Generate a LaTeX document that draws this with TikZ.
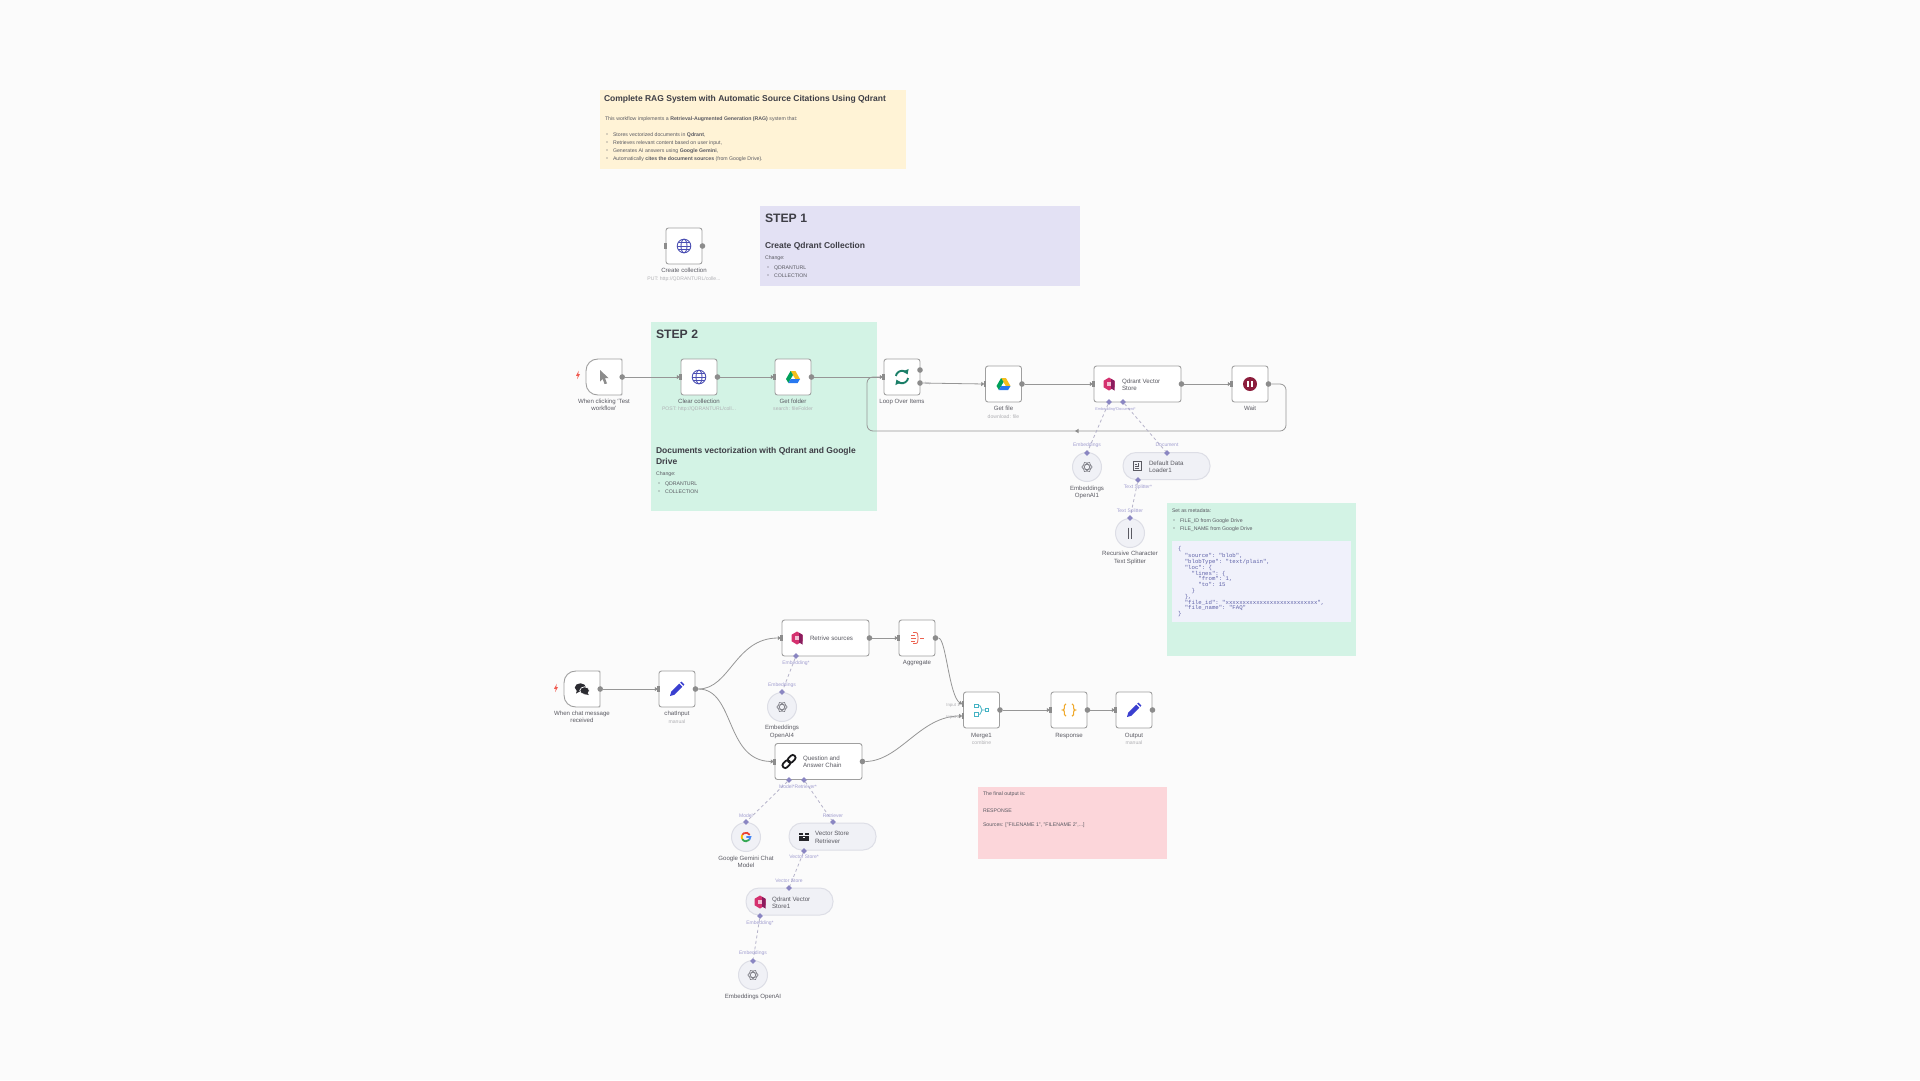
\documentclass[tikz,border=0pt]{standalone}
\usepackage{fontspec}
\setmainfont{Liberation Sans}
\setmonofont{Liberation Mono}
\usetikzlibrary{shapes.geometric,arrows.meta}
\definecolor{bgc}{HTML}{FBFBFB}
\definecolor{noteY}{HTML}{FFF3D6}
\definecolor{noteP}{HTML}{E3E1F4}
\definecolor{noteG}{HTML}{D3F3E5}
\definecolor{noteR}{HTML}{FCD6DA}
\definecolor{codeb}{HTML}{F0F1FB}
\definecolor{codet}{HTML}{5F62A8}
\definecolor{bord}{HTML}{A0A0A0}
\definecolor{port}{HTML}{8C8C8C}
\definecolor{edgecol}{HTML}{969696}
\definecolor{dia}{HTML}{8A86C2}
\definecolor{dashc}{HTML}{B6B4CA}
\definecolor{plab}{HTML}{A19ED0}
\definecolor{tdark}{HTML}{3E3E46}
\definecolor{tmid}{HTML}{5A5A62}
\definecolor{tsub}{HTML}{B0B0B4}
\definecolor{subbg}{HTML}{F0F1F6}
\definecolor{subbd}{HTML}{DDDEE6}
\definecolor{globe}{HTML}{4B4FB3}
\definecolor{pen}{HTML}{3A3FD0}
\definecolor{teal}{HTML}{1B7F68}
\definecolor{qd}{HTML}{D5316F}
\definecolor{qdd}{HTML}{8A1D5E}
\definecolor{waitc}{HTML}{8C1D3C}
\definecolor{redi}{HTML}{EC6250}
\definecolor{mergec}{HTML}{45B3C4}
\definecolor{orangei}{HTML}{F0A92B}
\definecolor{oai}{HTML}{7C7C84}
\newcounter{tn}
\newcommand\tx[4][]{\stepcounter{tn}\node[txt,#1] (t\arabic{tn}) at (#2,#3) {#4};}
\newcommand\bul[3]{\stepcounter{tn}\node[bdot] (t\arabic{tn}) at (#1,#2) {};\tx[west,body]{#1+6}{#2}{#3}}
\newcommand\nd[3]{\node[nbox] (#1) at (#2,#3) {};\node[outp] (#1-out) at (#1.east) {};\node[inp] (#1-in) at (#1.west) {};}
\newcommand\ndw[3]{\node[nbox,minimum width=87] (#1) at (#2,#3) {};\node[outp] (#1-out) at (#1.east) {};\node[inp] (#1-in) at (#1.west) {};}
\newcommand\lab[3]{\tx[lbl]{#1}{#2}{#3}}
\newcommand\sub[3]{\tx[sublbl]{#1}{#2}{#3}}
\newcommand\pl[3]{\tx[plbl]{#1}{#2}{#3}}
\newcommand\dm[3]{\node[dmd] (#1) at (#2,#3) {};}
% icons
\newcommand\icglobe[2]{\begin{scope}[shift={(#1,#2)},globe,line width=.9]\draw (0,0) circle[radius=6.8];\draw (0,0) ellipse[x radius=3,y radius=6.8];\draw (-6.8,0)--(6.8,0);\draw (-6,-3.2)--(6,-3.2);\draw (-6,3.2)--(6,3.2);\end{scope}}
\newcommand\icdrive[2]{\begin{scope}[shift={(#1,#2)}]\fill[color={rgb,255:red,244;green,190;blue,30}] (-2.4,-6)--(2.4,-6)--(7,2)--(2.3,2)--cycle;\fill[color={rgb,255:red,0;green,160;blue,90}] (-2.4,-6)--(0,-2)--(-4.6,6)--(-7,2)--cycle;\fill[color={rgb,255:red,40;green,120;blue,240}] (-2.3,2)--(7,2)--(4.6,6)--(-4.6,6)--cycle;\end{scope}}
\newcommand\iccursor[2]{\begin{scope}[shift={(#1,#2)}]\fill[port] (-4,-7)--(4.5,1)--(1,1)--(3,6.5)--(0.5,7)--(-1.3,2)--(-4,4.5)--cycle;\end{scope}}
\newcommand\icloop[2]{\begin{scope}[shift={(#1,#2)},teal,line width=1.9]\draw[-{Triangle[length=4.5,width=6]}] (-170:6.2) arc[start angle=-170,end angle=-25,radius=6.2];\draw[-{Triangle[length=4.5,width=6]}] (10:6.2) arc[start angle=10,end angle=155,radius=6.2];\end{scope}}
\newcommand\icq[2]{\begin{scope}[shift={(#1,#2)}]\fill[qd] (0,-6.5)--(5.5,-3.2)--(5.5,3.2)--(0,6.5)--(-5.5,3.2)--(-5.5,-3.2)--cycle;\fill[qdd] (2.2,-5.1)--(5.5,-3.2)--(5.5,6.5)--(2.2,4.6)--cycle;\fill[color=white!70!qd] (-2.2,-2.2) rectangle (1.6,2);\end{scope}}
\newcommand\icwait[2]{\begin{scope}[shift={(#1,#2)}]\fill[waitc] (0,0) circle[radius=7];\fill[white] (-2.6,-3.2) rectangle (-.6,3.2);\fill[white] (.6,-3.2) rectangle (2.6,3.2);\end{scope}}
\newcommand\icoai[2]{\begin{scope}[shift={(#1,#2)},oai,line width=.6]\draw (0,0) ellipse[x radius=5.2,y radius=2.6];\draw[rotate=60] (0,0) ellipse[x radius=5.2,y radius=2.6];\draw[rotate=-60] (0,0) ellipse[x radius=5.2,y radius=2.6];\end{scope}}
\newcommand\icdoc[2]{\begin{scope}[shift={(#1,#2)},tmid,line width=.6]\draw (-4,-4.5) rectangle (4,4.5);\draw (-2.2,-1.5)--(0,-1.5);\draw (-2.2,.5)--(2.2,.5);\draw (-2.2,2.5)--(2.2,2.5);\draw (1,-3)--(1,-.5)--(2.4,-.5);\end{scope}}
\newcommand\icbars[2]{\begin{scope}[shift={(#1,#2)},tmid,line width=1]\draw (-1.4,-5.5)--(-1.4,5.5);\draw (1.4,-5.5)--(1.4,5.5);\end{scope}}
\newcommand\icchat[2]{\begin{scope}[shift={(#1,#2)},tdark!70!black]\fill (-1.6,-1.5) ellipse[x radius=5.6,y radius=4.2];\fill (-5,1)--(-6,4.5)--(-2,2.4)--cycle;\draw[fill=tdark!70!black,draw=white,line width=.7] (2.6,1.6) ellipse[x radius=4.8,y radius=3.8];\fill (5,3)--(6.8,6)--(2,5)--cycle;\end{scope}}
\newcommand\icpen[2]{\begin{scope}[shift={(#1,#2)}]\fill[pen] (-7,7)--(-5.8,2.6)--(2.2,-5.4)--(5.4,-2.2)--(-2.6,5.8)--cycle;\fill[pen] (3.2,-6.4)--(4.6,-7.4)--(7.4,-4.6)--(6.4,-3.2)--cycle;\end{scope}}
\newcommand\icagg[2]{\begin{scope}[shift={(#1,#2)},redi,line width=.8]\draw (-6,-3)--(-2.5,-3);\draw (-6,0)--(-1.5,0);\draw (-6,3)--(-2.5,3);\draw (-4,-5.5)--(-1,-5.5) .. controls (1,-5.5) and (1,-2) .. (1,0) .. controls (1,2) and (1,5.5) .. (-1,5.5)--(-4,5.5);\draw (3,0)--(7,0);\end{scope}}
\newcommand\icmerge[2]{\begin{scope}[shift={(#1,#2)},mergec,line width=.8]\draw (-7,-6) rectangle (-3.5,-2.6);\draw (-7,2.6) rectangle (-3.5,6);\draw (3.5,-1.7) rectangle (7,1.7);\draw (-3.5,-4.3)--(-1.5,-4.3)--(.5,0)--(3.5,0);\draw (-3.5,4.3)--(-1.5,4.3)--(.5,0);\end{scope}}
\newcommand\icbrace[2]{\begin{scope}[shift={(#1,#2)},orangei,line width=1.1]\draw (-3,-6.2) .. controls (-5,-6.2) and (-4.6,-3.5) .. (-4.6,-2) .. controls (-4.6,-.6) and (-5.4,0) .. (-6.4,0) .. controls (-5.4,0) and (-4.6,.6) .. (-4.6,2) .. controls (-4.6,3.5) and (-5,6.2) .. (-3,6.2);\draw (3,-6.2) .. controls (5,-6.2) and (4.6,-3.5) .. (4.6,-2) .. controls (4.6,-.6) and (5.4,0) .. (6.4,0) .. controls (5.4,0) and (4.6,.6) .. (4.6,2) .. controls (4.6,3.5) and (5,6.2) .. (3,6.2);\end{scope}}
\newcommand\iclink[2]{\begin{scope}[shift={(#1,#2)},rotate=45,line width=1.8,tdark!40!black]\draw[rounded corners=2.4] (-8,-2.7) rectangle (.6,2.7);\draw[rounded corners=2.4] (-.6,-2.7) rectangle (8,2.7);\end{scope}}
\newcommand\icbox[2]{\begin{scope}[shift={(#1,#2)},tdark!60!black]\fill (-4.8,-.8) rectangle (4.8,4.4);\fill (-5.2,-4.2) rectangle (-.6,-1.6);\fill (.6,-4.2) rectangle (5.2,-1.6);\fill[white] (-1.4,.2) rectangle (1.4,1.2);\end{scope}}
\newcommand\icg[2]{\begin{scope}[shift={(#1,#2)},line width=1.8]\draw[color={rgb,255:red,234;green,67;blue,53}] (-30:4.3) arc[start angle=-30,end angle=-150,radius=4.3];\draw[color={rgb,255:red,251;green,188;blue,5}] (-150:4.3) arc[start angle=-150,end angle=-210,radius=4.3];\draw[color={rgb,255:red,52;green,168;blue,83}] (-210:4.3) arc[start angle=-210,end angle=-320,radius=4.3];\draw[color={rgb,255:red,66;green,133;blue,244}] (-320:4.3) arc[start angle=-320,end angle=-360,radius=4.3]--(.3,0);\end{scope}}
\newcommand\icbolt[2]{\begin{scope}[shift={(#1,#2)}]\fill[color={rgb,255:red,240;green,90;blue,80}] (.8,-4.2)--(-2,.8)--(-.2,.8)--(-.9,4.2)--(2,-1)--(.2,-1)--cycle;\end{scope}}
\newcommand\trig[2]{\begin{scope}[shift={(#1,#2)}]\draw[draw=bord,fill=white,line width=.9] (16,-18)--(-6,-18) .. controls (-13,-18) and (-18,-13) .. (-18,-6)--(-18,6) .. controls (-18,13) and (-13,18) .. (-6,18)--(16,18) .. controls (18,18) .. (18,16)--(18,-16) .. controls (18,-18) .. (16,-18)--cycle;\end{scope}}
\tikzset{
 x=1pt,y=-1pt,
 txt/.style={inner sep=0,outer sep=0,anchor=mid,text=tmid,font=\fontsize{5.4}{6.5}\selectfont},
 west/.style={anchor=mid west},
 lbl/.style={text=tmid,font=\fontsize{6.1}{7}\selectfont},
 sublbl/.style={text=tsub,font=\fontsize{5.1}{6}\selectfont},
 plbl/.style={text=plab,font=\fontsize{5}{6}\selectfont},
 body/.style={text=tmid,font=\fontsize{5.2}{6}\selectfont},
 h1/.style={west,text=tdark,font=\fontsize{12.2}{14}\bfseries\selectfont},
 h2/.style={west,text=tdark,font=\fontsize{8.5}{10}\bfseries\selectfont},
 inname/.style={west,text=tmid,font=\fontsize{6.2}{7}\selectfont},
 code/.style={west,text=codet,font=\fontsize{5.67}{6.5}\ttfamily\selectfont},
 bdot/.style={circle,fill=tmid,inner sep=0,minimum size=1.3},
 nbox/.style={draw=bord,fill=white,rounded corners=2.5,line width=.9,minimum width=36,minimum height=36,inner sep=0},
 plainbox/.style={minimum width=36,minimum height=36,inner sep=0},
 outp/.style={circle,fill=port,inner sep=0,minimum size=5.6},
 inp/.style={rectangle,fill=port,inner sep=0,minimum width=2.2,minimum height=6},
 edgec/.style={draw=edgecol,line width=.8},
 edgea/.style={edgec,-{Triangle[length=3,width=4,color=port]},shorten >=-.5},
 dmd/.style={diamond,fill=dia,inner sep=0,minimum size=6},
 dsh/.style={draw=dashc,line width=.8,dash pattern=on 3 off 2.6},
 subc/.style={circle,fill=subbg,draw=subbd,line width=1,minimum size=29,inner sep=0},
 pill/.style={rectangle,fill=subbg,draw=subbd,line width=1,rounded corners=13,minimum width=87,minimum height=27,inner sep=0},
}
\begin{document}
\begin{tikzpicture}
\useasboundingbox (0,0) rectangle (1920,1080);
\fill[bgc] (0,0) rectangle (1920,1080);
% notes
\fill[noteY] (600,90) rectangle (906,169);
\fill[noteP] (760,206) rectangle (1080,286);
\fill[noteG] (651,322) rectangle (877,511);
\fill[noteG] (1167,503) rectangle (1356,656);
\fill[codeb] (1172,541) rectangle (1351,622);
\fill[noteR] (978,787) rectangle (1167,859);
% yellow note
\tx[h2]{604}{99}{Complete RAG System with Automatic Source Citations Using Qdrant}
\tx[west,body]{605}{118}{This workflow implements a \textbf{Retrieval-Augmented Generation (RAG)} system that:}
\bul{607}{134}{Stores vectorized documents in \textbf{Qdrant},}
\bul{607}{142}{Retrieves relevant content based on user input,}
\bul{607}{150}{Generates AI answers using \textbf{Google Gemini},}
\bul{607}{158}{Automatically \textbf{cites the document sources} (from Google Drive).}
% step 1
\tx[h1]{765}{220}{STEP 1}
\tx[h2]{765}{246}{Create Qdrant Collection}
\tx[west,body]{765}{257}{Change:}
\bul{768}{267}{QDRANTURL}
\bul{768}{275}{COLLECTION}
% step 2
\tx[h1]{656}{336}{STEP 2}
\tx[h2]{656}{451}{Documents vectorization with Qdrant and Google}
\tx[h2]{656}{462}{Drive}
\tx[west,body]{656}{473}{Change:}
\bul{659}{483}{QDRANTURL}
\bul{659}{491}{COLLECTION}
% metadata note
\tx[west,body]{1172}{510}{Set as metadata:}
\bul{1174}{520}{FILE\_ID from Google Drive}
\bul{1174}{528}{FILE\_NAME from Google Drive}
\tx[code]{1178}{548.3}{\{}
\tx[code]{1178}{554.8}{\ \ "source": "blob",}
\tx[code]{1178}{561.3}{\ \ "blobType": "text/plain",}
\tx[code]{1178}{567.3}{\ \ "loc": \{}
\tx[code]{1178}{572.5}{\ \ \ \ "lines": \{}
\tx[code]{1178}{578}{\ \ \ \ \ \ "from": 1,}
\tx[code]{1178}{584}{\ \ \ \ \ \ "to": 15}
\tx[code]{1178}{590}{\ \ \ \ \}}
\tx[code]{1178}{596}{\ \ \},}
\tx[code]{1178}{602.3}{\ \ "file\_id": "xxxxxxxxxxxxxxxxxxxxxxxxxxx",}
\tx[code]{1178}{607.3}{\ \ "file\_name": "FAQ"}
\tx[code]{1178}{613.3}{\}}
% red note
\tx[west,body]{983}{793}{The final output is:}
\tx[west,body]{983}{810}{RESPONSE}
\tx[west,body]{983}{824}{Sources: ["FILENAME 1", "FILENAME 2",...]}
% nodes top
\nd{create}{684}{246}
\trig{604}{377}
\node[plainbox] (click) at (604,377) {};\node[outp] (click-out) at (click.east) {};
\nd{clear}{699}{377}
\nd{getfolder}{793}{377}
\node[nbox] (loop) at (902,377) {};\node[inp] (loop-in) at (loop.west) {};
\node[outp] (loop-done) at (920,370) {};
\node[outp] (loop-loop) at (920,383) {};
\nd{getfile}{1003.5}{384}
\ndw{qstore}{1137.5}{384}
\nd{wait}{1250}{384}
\node[subc] (embed1) at (1087,467) {};
\node[pill] (loader) at (1166.5,466) {};
\node[subc] (split) at (1130,533) {};
% nodes bottom
\trig{582}{689}
\node[plainbox] (chat) at (582,689) {};\node[outp] (chat-out) at (chat.east) {};
\nd{chatinput}{677}{689}
\ndw{retrive}{825.5}{638}
\nd{aggr}{917}{638}
\node[subc] (embed4) at (782,707) {};
\ndw{qa}{818.5}{761.5}
\node[nbox] (merge) at (981.5,710) {};
\node[outp] (merge-out) at (merge.east) {};
\node[inp] (merge-a) at (963,704) {};
\node[inp] (merge-b) at (963,716) {};
\nd{resp}{1069}{710}
\nd{outn}{1134}{710}
\node[subc] (gem) at (746,837) {};
\node[pill] (vsr) at (832.5,836.5) {};
\node[pill] (qs1) at (789.5,901.5) {};
\node[subc] (embed0) at (753,975) {};
% diamonds
\dm{d1}{1109}{402}\dm{d2}{1123}{402}\dm{d3}{1087}{453}\dm{d4}{1167}{453}\dm{d5}{1138}{480}\dm{d6}{1130}{518}
\dm{d7}{796}{656}\dm{d8}{782}{692}\dm{d9}{789}{780}\dm{d10}{804}{780}\dm{d11}{746}{822}\dm{d12}{833}{822}
\dm{d13}{804}{851}\dm{d14}{789}{888}\dm{d15}{760}{916}\dm{d16}{753}{961}
% connectors
\draw[edgea] (click-out) -- (clear-in);
\draw[edgea] (clear-out) -- (getfolder-in);
\draw[edgea] (getfolder-out) -- (loop-in);
\draw[edgea] (loop-loop) -- (getfile-in);
\draw[edgea] (getfile-out) -- (qstore-in);
\draw[edgea] (qstore-out) -- (wait-in);
\coordinate (lbR) at (1286,431);
\coordinate (lbL) at (867,431);
\coordinate (lbM) at (1078,431);
\draw[edgec,rounded corners=6] (wait-out) -| (lbR) -- (lbL) |- (loop-in);
\fill[port] (lbM) ++(-3,0) -- ++(3.5,-2.2) -- ++(0,4.4) -- cycle;
\draw[edgea] (chat-out) -- (chatinput-in);
\draw[edgea] (chatinput-out.east) .. controls (730,689) and (735,638) .. (retrive-in.west);
\draw[edgea] (chatinput-out.east) .. controls (735,689) and (725,761) .. (qa-in.west);
\draw[edgea] (retrive-out) -- (aggr-in);
\draw[edgea] (aggr-out.east) .. controls (946,638) and (949,696) .. (merge-a.west);
\draw[edgea] (qa-out.east) .. controls (900,761) and (920,716) .. (merge-b.west);
\draw[edgea] (merge-out) -- (resp-in);
\draw[edgea] (resp-out) -- (outn-in);
\draw[dsh] (d1) -- (d3);
\draw[dsh] (d2) -- (d4);
\draw[dsh] (d5) -- (d6);
\draw[dsh] (d7) -- (d8);
\draw[dsh] (d9) -- (d11);
\draw[dsh] (d10) -- (d12);
\draw[dsh] (d13) -- (d14);
\draw[dsh] (d15) -- (d16);
% icons
\icglobe{684}{246}\iccursor{604}{377}\icbolt{578}{375}\icglobe{699}{377}\icdrive{793}{377}\icloop{902}{377}\icdrive{1003.5}{384}
\icq{1109}{384}\icwait{1250}{384}\icoai{1087}{467}\icdoc{1137}{466}\icbars{1130}{533}
\icbolt{556}{688}\icchat{582}{689}\icpen{677}{689}\icq{797}{638}\icagg{917}{638}\icoai{782}{707}\iclink{789}{761.5}
\icmerge{981.5}{710}\icbrace{1069}{710}\icpen{1134}{710}\icg{746}{837}\icbox{804}{837}\icq{760}{902}\icoai{753}{975}
% labels top
\lab{684}{270}{Create collection}\sub{684}{278}{PUT: http://QDRANTURL/colle...}
\lab{604}{401}{When clicking ‘Test}\lab{604}{408}{workflow’}
\lab{699}{401}{Clear collection}\sub{699}{408}{POST: http://QDRANTURL/coll...}
\lab{793}{401}{Get folder}\sub{793}{408}{search: fileFolder}
\lab{902}{401}{Loop Over Items}
\tx[sublbl,font=\fontsize{3.4}{4}\selectfont]{928}{382}{loop}
\lab{1003.5}{408}{Get file}\sub{1003.5}{416}{download: file}
\tx[inname]{1122}{381}{Qdrant Vector}\tx[inname]{1122}{388}{Store}
\lab{1250}{408}{Wait}
\tx[plbl,font=\fontsize{3.9}{5}\selectfont]{1106}{408}{Embedding*}\tx[plbl,font=\fontsize{3.9}{5}\selectfont]{1126}{408}{Document*}
\pl{1087}{444}{Embeddings}\pl{1167}{444}{Document}
\lab{1087}{488}{Embeddings}\lab{1087}{495}{OpenAI1}
\tx[inname]{1149}{463}{Default Data}\tx[inname]{1149}{470}{Loader1}
\pl{1138}{486}{Text Splitter*}\pl{1130}{510}{Text Splitter}
\lab{1130}{553}{Recursive Character}\lab{1130}{561}{Text Splitter}
% labels bottom
\lab{582}{713}{When chat message}\lab{582}{720}{received}
\lab{677}{713}{chatInput}\sub{677}{721}{manual}
\tx[inname]{810}{638}{Retrive sources}
\pl{796}{662}{Embedding*}\pl{782}{684}{Embeddings}
\lab{782}{727}{Embeddings}\lab{782}{735}{OpenAI4}
\lab{917}{662}{Aggregate}
\tx[inname]{803}{758}{Question and}\tx[inname]{803}{765}{Answer Chain}
\pl{798}{786}{Model*Retriever*}
\tx[sublbl,font=\fontsize{4.4}{5}\selectfont]{953}{704}{Input 1}\tx[sublbl,font=\fontsize{4.4}{5}\selectfont]{953}{716}{Input 2}
\lab{981.5}{735}{Merge1}\sub{981.5}{742}{combine}
\lab{1069}{735}{Response}
\lab{1134}{735}{Output}\sub{1134}{742}{manual}
\pl{746}{815}{Model}\pl{833}{815}{Retriever}
\lab{746}{858}{Google Gemini Chat}\lab{746}{865}{Model}
\tx[inname]{815}{833}{Vector Store}\tx[inname]{815}{841}{Retriever}
\pl{804}{856}{Vector Store*}\pl{789}{880}{Vector Store}
\tx[inname]{772}{899}{Qdrant Vector}\tx[inname]{772}{906}{Store1}
\pl{760}{922}{Embedding*}\pl{753}{952}{Embeddings}
\lab{753}{996}{Embeddings OpenAI}
\end{tikzpicture}
\end{document}
